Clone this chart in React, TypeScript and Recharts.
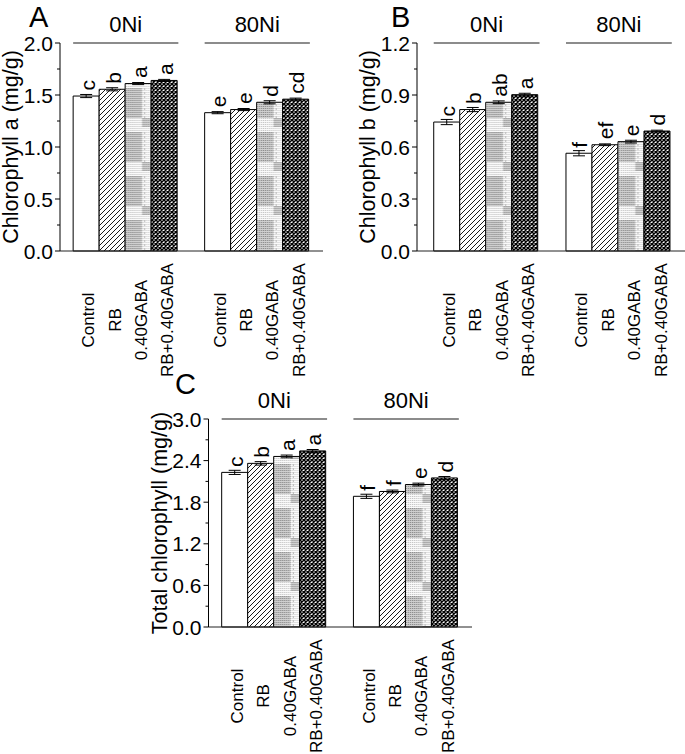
import React from 'react';
import { BarChart, Bar, XAxis, YAxis, ErrorBar, LabelList, Label } from 'recharts';

const FONT = '"Liberation Sans", Arial, sans-serif';

const groups = ['0Ni', '80Ni'];
const treatments = ['Control', 'RB', '0.40GABA', 'RB+0.40GABA'];

// Panel A: Chlorophyll a
const chlA0 = [1.49, 1.555, 1.61, 1.64];
const chlA80 = [1.33, 1.36, 1.43, 1.46];
const chlAErr0 = [0.015, 0.015, 0.01, 0.01];
const chlAErr80 = [0.01, 0.01, 0.015, 0.01];
const chlALet0 = ['c', 'b', 'a', 'a'];
const chlALet80 = ['e', 'e', 'd', 'cd'];
const chlAMajor = [0, 0.5, 1.0, 1.5, 2.0];
const chlAAllTicks = [0, 0.25, 0.5, 0.75, 1.0, 1.25, 1.5, 1.75, 2.0];

// Panel B: Chlorophyll b
const chlB0 = [0.744, 0.816, 0.858, 0.902];
const chlB80 = [0.564, 0.613, 0.631, 0.692];
const chlBErr0 = [0.015, 0.012, 0.008, 0.008];
const chlBErr80 = [0.015, 0.005, 0.008, 0.005];
const chlBLet0 = ['c', 'b', 'ab', 'a'];
const chlBLet80 = ['f', 'ef', 'e', 'd'];
const chlBMajor = [0, 0.3, 0.6, 0.9, 1.2];
const chlBAllTicks = [0, 0.15, 0.3, 0.45, 0.6, 0.75, 0.9, 1.05, 1.2];

// Panel C: Total chlorophyll
const tot0 = [2.23, 2.36, 2.46, 2.54];
const tot80 = [1.885, 1.955, 2.055, 2.15];
const totErr0 = [0.03, 0.025, 0.02, 0.02];
const totErr80 = [0.03, 0.02, 0.02, 0.02];
const totLet0 = ['c', 'b', 'a', 'a'];
const totLet80 = ['f', 'f', 'e', 'd'];
const totMajor = [0, 0.6, 1.2, 1.8, 2.4, 3.0];
const totAllTicks = [0, 0.3, 0.6, 0.9, 1.2, 1.5, 1.8, 2.1, 2.4, 2.7, 3.0];

function buildRows(v0: number[], v80: number[], e0: number[], e80: number[], l0: string[], l80: string[]) {
  return groups.map((g, gi) => {
    const v = gi === 0 ? v0 : v80;
    const e = gi === 0 ? e0 : e80;
    const l = gi === 0 ? l0 : l80;
    const row: any = { group: g };
    treatments.forEach((_, i) => {
      row[`v${i}`] = v[i];
      row[`e${i}`] = e[i];
      row[`l${i}`] = l[i];
    });
    return row;
  });
}

const Y_AXIS_W = 50;
const PLOT_H = 208;

type PanelCfg = {
  id: string;
  letter: string;
  title: string;
  left: number;
  top: number;
  width: number;
  height: number;
  margin: { top: number; right: number; left: number; bottom: number };
  padLeft: number;
  yMax: number;
  major: number[];
  all: number[];
  rows: any[];
};

const panels: PanelCfg[] = [
  {
    id: 'A', letter: 'A', title: 'Chlorophyll a (mg/g)',
    left: 0, top: 0, width: 340, height: 380,
    margin: { top: 43, right: 17, left: 10, bottom: 0 }, padLeft: 0,
    yMax: 2.0, major: chlAMajor, all: chlAAllTicks,
    rows: buildRows(chlA0, chlA80, chlAErr0, chlAErr80, chlALet0, chlALet80),
  },
  {
    id: 'B', letter: 'B', title: 'Chlorophyll b (mg/g)',
    left: 340, top: 0, width: 345, height: 380,
    margin: { top: 43, right: 0, left: 27, bottom: 0 }, padLeft: 3.5,
    yMax: 1.2, major: chlBMajor, all: chlBAllTicks,
    rows: buildRows(chlB0, chlB80, chlBErr0, chlBErr80, chlBLet0, chlBLet80),
  },
  {
    id: 'C', letter: 'C', title: 'Total chlorophyll (mg/g)',
    left: 140, top: 376, width: 335, height: 378,
    margin: { top: 43, right: 3, left: 18.5, bottom: 0 }, padLeft: 0,
    yMax: 3.0, major: totMajor, all: totAllTicks,
    rows: buildRows(tot0, tot80, totErr0, totErr80, totLet0, totLet80),
  },
];

function geom(p: PanelCfg) {
  const plotLeft = p.margin.left + Y_AXIS_W;
  const plotW = p.width - plotLeft - p.margin.right;
  const bandW = (plotW - p.padLeft) / groups.length;
  const barW = (bandW * 0.8) / treatments.length;
  const gabaX = plotLeft + p.padLeft + bandW * 0.1 + 2 * barW;
  const xAxisH = p.height - p.margin.top - PLOT_H;
  return { plotLeft, plotW, bandW, barW, gabaX, xAxisH };
}

// Significance letter, rotated to read upward, sitting just above the bar (and its error cap)
const LetterLabel = (props: any) => {
  const vb = props.viewBox || {};
  const x = typeof vb.x === 'number' ? vb.x : props.x;
  const y = typeof vb.y === 'number' ? vb.y : props.y;
  const w = typeof vb.width === 'number' ? vb.width : props.width;
  const cx = x + w / 2 + 1;
  const yb = y - 5.5;
  return (
    <g transform={`translate(${cx} ${yb}) rotate(-90)`}>
      <text x={0} y={0} textAnchor="start" dominantBaseline="central" fontSize={21} fontFamily={FONT} fill="#000">
        {props.value}
      </text>
    </g>
  );
};

function Panel({ p }: { p: PanelCfg }) {
  const g = geom(p);
  const fills = ['#ffffff', 'url(#hatch)', `url(#gaba${p.id})`, 'url(#cross)'];

  const yTick = (props: any) => {
    const { x, y, payload } = props;
    const v = payload.value;
    const isMajor = p.major.some((m) => Math.abs(m - v) < 1e-9);
    return (
      <g>
        <line x1={x - (isMajor ? 5 : 3)} x2={x} y1={y} y2={y} stroke="#000" strokeWidth={1} />
        {isMajor && (
          <text x={x - 7} y={y} textAnchor="end" dominantBaseline="central" fontSize={21} fontFamily={FONT} fill="#000">
            {Number(v).toFixed(1)}
          </text>
        )}
      </g>
    );
  };

  // Category tick: rotated treatment labels under each bar, group header with line above the plot
  const xTick = (props: any) => {
    const { x, y, payload } = props;
    const topY = y - PLOT_H;
    return (
      <g>
        {treatments.map((t, i) => {
          const tx = x + (i - 1.5) * g.barW + 2.5;
          const ty = y + 69;
          return (
            <g key={t} transform={`translate(${tx} ${ty}) rotate(-90)`}>
              <text x={0} y={0} textAnchor="middle" dominantBaseline="central" fontSize={17} fontFamily={FONT} fill="#000">
                {t}
              </text>
            </g>
          );
        })}
        <line x1={x - 2 * g.barW} x2={x + 2 * g.barW} y1={topY} y2={topY} stroke="#666" strokeWidth={1.5} />
        <text x={x} y={topY - 11} textAnchor="middle" fontSize={22} fontFamily={FONT} fill="#000">
          {payload.value}
        </text>
      </g>
    );
  };

  const yTitle = (lp: any) => {
    const vb = lp.viewBox || {};
    const cx = vb.x + vb.width - 49;
    const cy = vb.y + vb.height / 2;
    return (
      <g transform={`translate(${cx} ${cy}) rotate(-90)`}>
        <text x={0} y={0} textAnchor="middle" dominantBaseline="central" fontSize={21.5} fontFamily={FONT} fill="#000">
          {p.title}
        </text>
      </g>
    );
  };

  return (
    <div style={{ position: 'absolute', left: p.left, top: p.top, width: p.width, height: p.height }}>
      <BarChart width={p.width} height={p.height} data={p.rows} margin={p.margin} barCategoryGap="10%" barGap={0}>
        <XAxis
          dataKey="group"
          type="category"
          height={g.xAxisH}
          tickSize={0}
          tickMargin={0}
          tickLine={false}
          axisLine={{ stroke: '#222', strokeWidth: 1 }}
          interval={0}
          padding={{ left: p.padLeft, right: 0 }}
          tick={xTick}
        />
        <YAxis
          type="number"
          domain={[0, p.yMax]}
          ticks={p.all}
          interval={0}
          width={Y_AXIS_W}
          tickSize={0}
          tickMargin={0}
          tickLine={false}
          axisLine={{ stroke: '#000', strokeWidth: 1 }}
          tick={yTick}
        >
          <Label content={yTitle} />
        </YAxis>
        {treatments.map((t, i) => (
          <Bar
            key={t}
            dataKey={`v${i}`}
            name={t}
            fill={fills[i]}
            stroke="#000"
            strokeWidth={1}
            isAnimationActive={false}
          >
            <ErrorBar dataKey={`e${i}`} width={6} stroke="#000" strokeWidth={1} isAnimationActive={false} />
            <LabelList dataKey={`l${i}`} content={LetterLabel} />
          </Bar>
        ))}
      </BarChart>
    </div>
  );
}

const letterPos: Record<string, { x: number; y: number }> = {
  A: { x: 29, y: 26.5 },
  B: { x: 391, y: 26.5 },
  C: { x: 175, y: 394 },
};

export default function App() {
  return (
    <div style={{ position: 'absolute', left: 0, top: 0, width: 685, height: 754, background: '#fff', fontFamily: FONT }}>
      <svg width={685} height={754} style={{ position: 'absolute', left: 0, top: 0, pointerEvents: 'none' }}>
        <defs>
          <pattern id="hatch" patternUnits="userSpaceOnUse" width={5} height={5}>
            <rect width={5} height={5} fill="#fff" />
            <path d="M-1,1 L1,-1 M0,5 L5,0 M4,6 L6,4" stroke="#000" strokeWidth={0.9} />
          </pattern>
          <pattern id="cross" patternUnits="userSpaceOnUse" width={4} height={4}>
            <rect width={4} height={4} fill="#fff" />
            <path d="M0,0 L4,4 M4,0 L0,4" stroke="#000" strokeWidth={1.45} />
          </pattern>
          <pattern id="dotsDark" patternUnits="userSpaceOnUse" width={2} height={2}>
            <rect width={2} height={2} fill="#cfcfcf" />
            <rect width={1} height={1} fill="#8a8a8a" />
          </pattern>
          <pattern id="dotsLight" patternUnits="userSpaceOnUse" width={2} height={2}>
            <rect width={2} height={2} fill="#fafafa" />
            <rect width={1} height={1} fill="#c4c4c4" />
          </pattern>
          {panels.map((p) => {
            const g = geom(p);
            const w = g.barW;
            return (
              <pattern key={p.id} id={`gaba${p.id}`} patternUnits="userSpaceOnUse" x={g.gabaX} y={0} width={w} height={44}>
                <rect width={w} height={44} fill="url(#dotsLight)" />
                <rect width={w * 0.62} height={30} fill="url(#dotsDark)" />
                <rect x={w * 0.62} y={30} width={w * 0.38} height={9} fill="url(#dotsDark)" />
                <line x1={w * 0.72} x2={w * 0.72} y1={0} y2={30} stroke="#bbb" strokeDasharray="2 2" />
              </pattern>
            );
          })}
        </defs>
      </svg>
      {panels.map((p) => (
        <Panel key={p.id} p={p} />
      ))}
      <svg width={685} height={754} style={{ position: 'absolute', left: 0, top: 0, pointerEvents: 'none' }}>
        {panels.map((p) => (
          <text key={p.id} x={letterPos[p.letter].x} y={letterPos[p.letter].y} fontSize={29} fontFamily={FONT} fill="#000">
            {p.letter}
          </text>
        ))}
      </svg>
    </div>
  );
}
